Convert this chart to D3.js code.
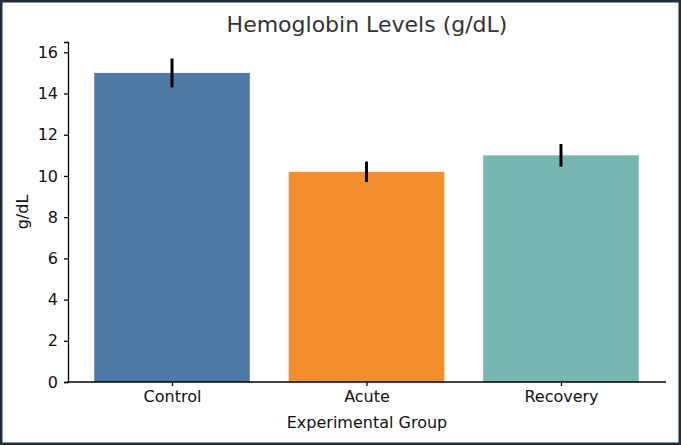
<!DOCTYPE html>
<html><head><meta charset="utf-8">
<script src="https://cdn.jsdelivr.net/npm/d3@7"></script>
<style>
body{margin:0;background:#fff}
svg{display:block;font-family:"DejaVu Sans",sans-serif}
</style></head><body>
<script>
var groups = ["Control", "Acute", "Recovery"];
var means = [15.0, 10.2, 11.0];
var errs = [0.7, 0.5, 0.55];
var colors = ["#4e79a7", "#f28e2b", "#76b7b2"];
var yTicks = [0, 2, 4, 6, 8, 10, 12, 14, 16];

var W = 681, H = 445;
var svg = d3.select("body").append("svg").attr("width", W).attr("height", H);
svg.append("rect").attr("x",1).attr("y",1).attr("width",W-2).attr("height",H-2)
  .attr("fill","#fff").attr("stroke","#1f2d3a").attr("stroke-width",3);

var x = d3.scaleLinear().domain([-0.54, 2.54]).range([67, 666]);
var y = d3.scaleLinear().domain([0, 16.5]).range([382, 42]);

svg.selectAll(".bar").data(means).enter().append("rect")
  .attr("x", function(d,i){return x(i-0.4);})
  .attr("width", function(d,i){return x(i+0.4)-x(i-0.4);})
  .attr("y", function(d){return y(d);})
  .attr("height", function(d){return y(0)-y(d);})
  .attr("fill", function(d,i){return colors[i];});

svg.selectAll(".err").data(means).enter().append("line")
  .attr("x1", function(d,i){return x(i);}).attr("x2", function(d,i){return x(i);})
  .attr("y1", function(d,i){return y(d-errs[i]);})
  .attr("y2", function(d,i){return y(d+errs[i]);})
  .attr("stroke","#000").attr("stroke-width",3);

var ya = svg.append("g").attr("transform","translate(68,0)")
  .call(d3.axisLeft(y).tickValues(yTicks).tickSize(4).tickPadding(6));
var xa = svg.append("g").attr("transform","translate(0,382)")
  .call(d3.axisBottom(x).tickValues([0,1,2]).tickFormat(function(d){return groups[d];}).tickSize(4).tickPadding(5));
[ya, xa].forEach(function(a){
  a.selectAll("text").attr("font-size",16).attr("fill","#111").attr("font-family","DejaVu Sans");
  a.selectAll("line,path").attr("stroke","#000").attr("stroke-width",1.3);
});
xa.select("path").attr("d","M67,0H666");

svg.append("text").attr("x",367).attr("y",32).attr("text-anchor","middle")
  .attr("font-size",22).attr("fill","#333").text("Hemoglobin Levels (g/dL)");
svg.append("text").attr("x",367).attr("y",428).attr("text-anchor","middle")
  .attr("font-size",16).attr("fill","#111").text("Experimental Group");
svg.append("text").attr("transform","translate(28,212) rotate(-90)").attr("text-anchor","middle")
  .attr("font-size",16).attr("fill","#111").text("g/dL");
</script>
</body></html>
